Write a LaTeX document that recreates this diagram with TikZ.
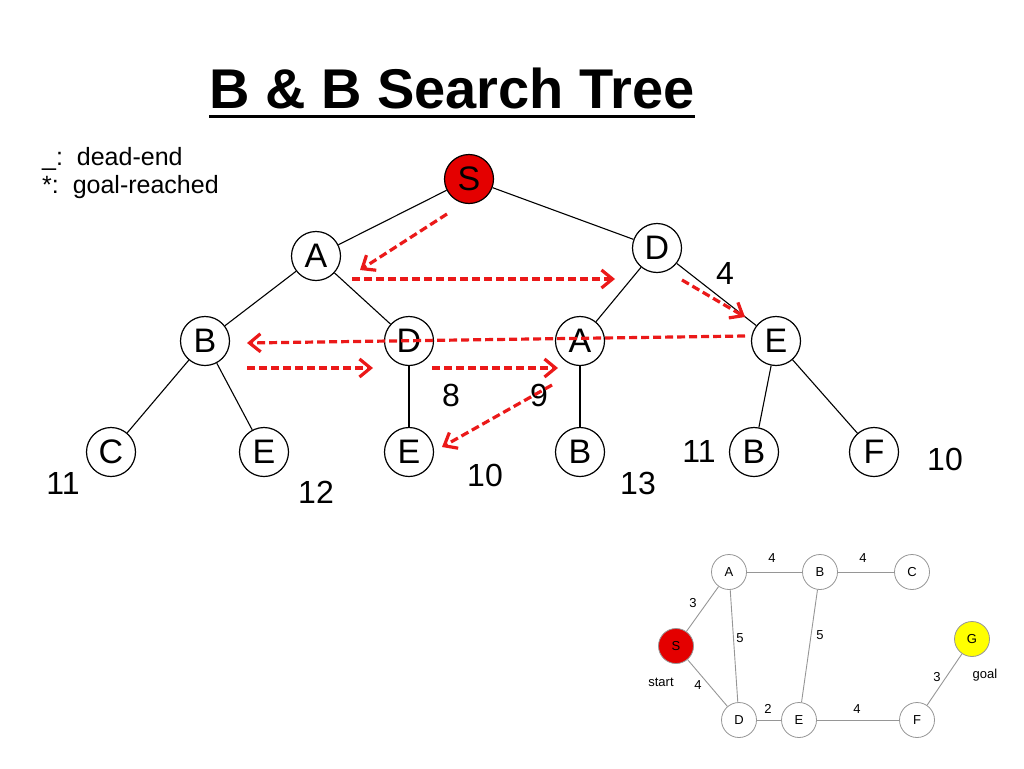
\documentclass[tikz,border=0pt]{standalone}
\usepackage{fontspec}
\setmainfont{Liberation Sans}
\usetikzlibrary{arrows.meta,calc}
\definecolor{arrred}{RGB}{235,25,25}
\definecolor{sred}{RGB}{228,0,0}
\definecolor{gy}{RGB}{150,150,150}
\definecolor{gyel}{RGB}{255,255,0}
\begin{document}
\begin{tikzpicture}[x=1pt,y=-1pt,
  tn/.style={circle,draw,line width=1.2pt,minimum size=49pt,inner sep=0pt,font=\fontsize{34}{40}\selectfont},
  te/.style={draw,line width=1.1pt},
  num/.style={font=\fontsize{32}{38}\selectfont,inner sep=0pt},
  redarr/.style={draw=arrred,line width=3.2pt,dash pattern=on 8pt off 4pt,-{Straight Barb[length=11pt,width=18pt,line width=3.2pt]}},
  sn/.style={circle,draw=gy,line width=0.8pt,minimum size=35pt,inner sep=0pt,fill=white,font=\fontsize{13}{15}\selectfont},
  ge/.style={draw=gy,line width=0.9pt},
  gl/.style={font=\fontsize{13}{15}\selectfont,inner sep=0pt}]
\useasboundingbox (0,0) rectangle (1024,768);
% title
\node[anchor=base,inner sep=0pt,font=\fontsize{56}{64}\selectfont\bfseries] (title) at (452,108) {B \& B Search Tree};
\draw[line width=3pt] ($(title.base west)+(0,8)$) -- ($(title.base east)+(0,8)$);
% legend
\node[anchor=base west,inner sep=0pt,font=\fontsize{25}{30}\selectfont] (leg1) at (42,165) {\_:\ \ dead-end};
\node[anchor=base west,inner sep=0pt,font=\fontsize{25}{30}\selectfont] (leg2) at (42,193) {*:\ \ goal-reached};
% tree nodes
\node[tn,fill=sred] (S) at (469,179) {S};
\node[tn] (A1) at (316,256) {A};
\node[tn] (D1) at (657,248) {D};
\node[tn] (B1) at (205,341) {B};
\node[tn] (D2) at (409,341) {D};
\node[tn] (A2) at (580,341) {A};
\node[tn] (E1) at (776,341) {E};
\node[tn] (C) at (111,452) {C};
\node[tn] (E2) at (264,452) {E};
\node[tn] (E3) at (409,452) {E};
\node[tn] (B2) at (580,452) {B};
\node[tn] (B3) at (754,452) {B};
\node[tn] (F) at (874,452) {\raisebox{-7pt}{F}};
% tree edges
\draw[te] (S) -- (A1);
\draw[te] (S) -- (D1);
\draw[te] (A1) -- (B1);
\draw[te] (A1) -- (D2);
\draw[te] (D1) -- (A2);
\draw[te] (D1) -- (E1);
\draw[te] (B1) -- (C);
\draw[te] (B1) -- (E2);
\draw[te] (D2) -- (E3);
\draw[te] (A2) -- (B2);
\draw[te] (E1) -- (B3);
\draw[te] (E1) -- (F);
% numbers
\node[num] (n11a) at (63,483) {11};
\node[num] (n12) at (316,492) {12};
\node[num] (n8) at (451,395) {8};
\node[num] (n10a) at (485,475) {10};
\node[num] (n9) at (539,395) {9};
\node[num] (n13) at (638,483) {13};
\node[num] (n11b) at (699,451) {11};
\node[num] (n10b) at (945,459) {10};
\node[num] (n4) at (725,273) {4};
% red traversal arrows
\coordinate (r1s) at (447,214); \coordinate (r1e) at (360,270);
\coordinate (r2s) at (352,279); \coordinate (r2e) at (615,279);
\coordinate (r3s) at (682,280); \coordinate (r3e) at (745,317);
\coordinate (r4s) at (745,336); \coordinate (r4e) at (247,343);
\coordinate (r5s) at (247,368); \coordinate (r5e) at (373,368);
\coordinate (r6s) at (432,368); \coordinate (r6e) at (558,368);
\coordinate (r7s) at (552,385); \coordinate (r7e) at (442,447);
\draw[redarr] (r1s) -- (r1e);
\draw[redarr] (r2s) -- (r2e);
\draw[redarr] (r3s) -- (r3e);
\draw[redarr] (r4s) -- (r4e);
\draw[redarr] (r5s) -- (r5e);
\draw[redarr] (r6s) -- (r6e);
\draw[redarr] (r7s) -- (r7e);
% small graph
\node[sn,fill=sred] (gS) at (676,646) {S};
\node[sn] (gA) at (729,572) {A};
\node[sn] (gB) at (820,572) {B};
\node[sn] (gC) at (912,572) {C};
\node[sn,fill=gyel] (gG) at (972,639) {G};
\node[sn] (gD) at (739,720) {D};
\node[sn] (gE) at (799,720) {E};
\node[sn] (gF) at (917,720) {F};
\draw[ge] (gA) -- (gB);
\draw[ge] (gB) -- (gC);
\draw[ge] (gS) -- (gA);
\draw[ge] (gA) -- (gD);
\draw[ge] (gB) -- (gE);
\draw[ge] (gS) -- (gD);
\draw[ge] (gD) -- (gE);
\draw[ge] (gE) -- (gF);
\draw[ge] (gF) -- (gG);
\node[gl] (lAB) at (772,558) {4};
\node[gl] (lBC) at (863,558) {4};
\node[gl] (lSA) at (693,603) {3};
\node[gl] (lAD) at (740,638) {5};
\node[gl] (lBE) at (820,635) {5};
\node[gl] (lSD) at (698,685) {4};
\node[gl] (lDE) at (768,709) {2};
\node[gl] (lEF) at (857,709) {4};
\node[gl] (lFG) at (937,677) {3};
\node[gl] (lstart) at (661,682) {start};
\node[gl] (lgoal) at (985,675) {goal};
\end{tikzpicture}
\end{document}
